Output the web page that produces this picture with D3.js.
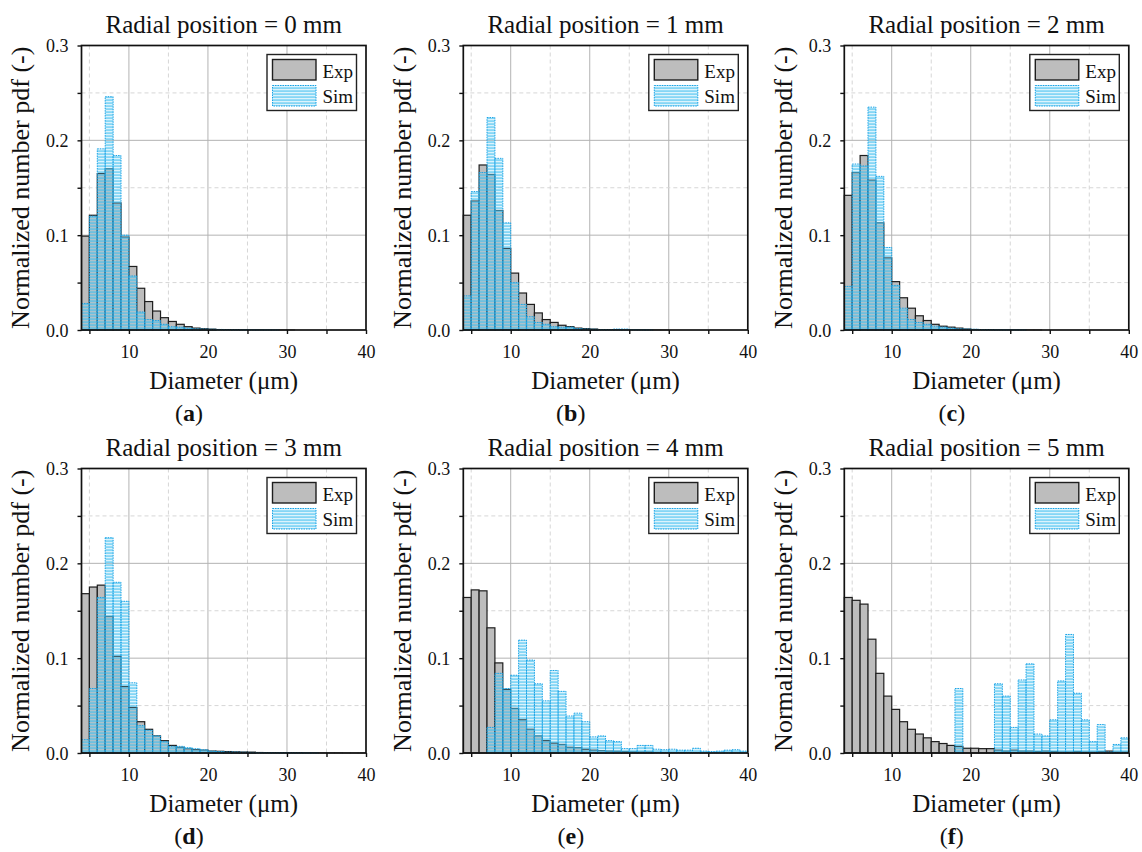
<!DOCTYPE html>
<html>
  <head>
    <meta charset="UTF-8">
    <title>Droplet size pdf</title>
    <script src="https://cdn.jsdelivr.net/npm/d3@7"></script>
    <style type="text/css">
      body { margin: 0; background: #fff; }
      svg text { font-family: "Liberation Serif", "DejaVu Serif", serif; fill: #111; }
    </style>
  </head>
  <body>

  <script type="text/javascript">

    // bins are 1 um wide, left edges 4 .. 39
    var binLeft = d3.range(4, 40, 1);

    var titles = ['Radial position = 0 mm', 'Radial position = 1 mm', 'Radial position = 2 mm',
                  'Radial position = 3 mm', 'Radial position = 4 mm', 'Radial position = 5 mm'];
    var letters = ['a', 'b', 'c', 'd', 'e', 'f'];
    var xTickLabels = [10, 20, 30, 40];
    var yTickLabels = [0, 0.1, 0.2, 0.3];
    var legendNames = ['Exp', 'Sim'];

    var expA = [0.099, 0.121, 0.165, 0.170, 0.134, 0.098, 0.067, 0.044, 0.030, 0.020, 0.013, 0.009,
                0.006, 0.0035, 0.002, 0.0013, 0.0009, 0.0007, 0.0005, 0.0004, 0.0003, 0.0002, 0.0002, 0.0001,
                0.0001, 0.0001, 0.0001, 0, 0, 0, 0, 0, 0, 0, 0, 0];
    var simA = [0.028, 0.120, 0.191, 0.246, 0.184, 0.100, 0.057, 0.019, 0.011, 0.010, 0.006, 0.0035,
                0.003, 0.002, 0.0012, 0.001, 0.0008, 0.0006, 0.0004, 0.0003, 0.0002, 0.0002, 0.0001, 0.0001,
                0.0001, 0, 0, 0, 0, 0, 0, 0, 0, 0, 0, 0];

    var expB = [0.121, 0.136, 0.174, 0.164, 0.126, 0.086, 0.060, 0.039, 0.027, 0.018, 0.011, 0.008,
                0.005, 0.0035, 0.002, 0.0014, 0.001, 0.0007, 0.0005, 0.0004, 0.0003, 0.0002, 0.0002, 0.0001,
                0.0001, 0.0001, 0, 0, 0, 0, 0, 0, 0, 0, 0, 0];
    var simB = [0.036, 0.146, 0.166, 0.224, 0.181, 0.113, 0.050, 0.027, 0.014, 0.008, 0.006, 0.0035,
                0.003, 0.003, 0.0014, 0.001, 0.0008, 0.0005, 0.0004, 0.0010, 0.0010, 0.0005, 0.0002, 0.0001,
                0, 0, 0, 0, 0, 0, 0, 0, 0, 0, 0, 0];

    var expC = [0.142, 0.166, 0.184, 0.158, 0.113, 0.076, 0.051, 0.034, 0.023, 0.015, 0.010, 0.006,
                0.004, 0.003, 0.002, 0.001, 0.0008, 0.0006, 0.0004, 0.0003, 0.0002, 0.0002, 0.0001, 0.0001,
                0.0001, 0, 0, 0, 0, 0, 0, 0, 0, 0, 0, 0];
    var simC = [0.046, 0.175, 0.173, 0.235, 0.162, 0.087, 0.047, 0.023, 0.011, 0.008, 0.006, 0.004,
                0.003, 0.002, 0.0012, 0.001, 0.0008, 0.0005, 0.0004, 0.0003, 0.0002, 0.0001, 0.0001, 0,
                0, 0, 0, 0, 0, 0, 0, 0, 0, 0, 0, 0];

    var expD = [0.168, 0.175, 0.177, 0.144, 0.102, 0.070, 0.048, 0.033, 0.025, 0.018, 0.013, 0.008,
                0.006, 0.0045, 0.0035, 0.003, 0.002, 0.0018, 0.0015, 0.0012, 0.001, 0.0009, 0.0008, 0.0007,
                0.0006, 0.0005, 0.0005, 0.0004, 0.0003, 0.0003, 0.0002, 0.0002, 0.0002, 0.0001, 0.0001, 0.0001];
    var simD = [0.014, 0.068, 0.164, 0.227, 0.180, 0.160, 0.074, 0.029, 0.024, 0.018, 0.012, 0.007,
                0.007, 0.0056, 0.0045, 0.0035, 0.002, 0.0015, 0.001, 0.001, 0.0008, 0.0006, 0.0005, 0.0004,
                0.0003, 0.0003, 0.0002, 0.0002, 0.0001, 0.0001, 0, 0, 0, 0, 0, 0];

    var expE = [0.164, 0.172, 0.171, 0.132, 0.095, 0.067, 0.047, 0.035, 0.025, 0.018, 0.013, 0.0105,
                0.009, 0.006, 0.0056, 0.004, 0.003, 0.0025, 0.002, 0.0018, 0.0015, 0.0012, 0.001, 0.001,
                0.0008, 0.0007, 0.0006, 0.0005, 0.0005, 0.0004, 0.0003, 0.0003, 0.0002, 0.0002, 0.0002, 0.0001];
    var simE = [0, 0, 0, 0.027, 0.084, 0.068, 0.082, 0.119, 0.098, 0.073, 0.055, 0.087,
                0.065, 0.039, 0.042, 0.033, 0.017, 0.018, 0.013, 0.012, 0.0046, 0.0046, 0.008, 0.008,
                0.004, 0.0035, 0.004, 0.003, 0.003, 0.005, 0.002, 0.0015, 0.002, 0.003, 0.0035, 0.002];

    var expF = [0.164, 0.161, 0.157, 0.120, 0.084, 0.060, 0.046, 0.033, 0.025, 0.020, 0.016, 0.012,
                0.010, 0.008, 0.007, 0.005, 0.005, 0.0046, 0.0046, 0.003, 0.002, 0.003, 0.002, 0.002,
                0.0015, 0.002, 0.0015, 0.001, 0.001, 0.0015, 0.001, 0.001, 0.0015, 0.002, 0.001, 0.001];
    var simF = [0, 0, 0, 0, 0, 0, 0, 0, 0, 0, 0, 0,
                0, 0, 0.068, 0, 0, 0, 0, 0.073, 0.060, 0.027, 0.077, 0.094,
                0.020, 0.018, 0.035, 0.076, 0.125, 0.063, 0.035, 0.012, 0.030, 0.001, 0.009, 0.016];

    var expSeries = [expA, expB, expC, expD, expE, expF];
    var simSeries = [simA, simB, simC, simD, simE, simF];

    var width = 1142, height = 852,
      plotSize = 284.5,
      colX = [0, 381.8, 762.8],
      rowY = [0, 423];

    var svg = d3.select('body')
      .append('svg')
      .attr('width', width)
      .attr('height', height);

    // striped fill used by the Sim bars
    var defs = svg.append('defs');
    var pat = defs.append('pattern')
      .attr('id', 'stripes')
      .attr('patternUnits', 'userSpaceOnUse')
      .attr('width', 6)
      .attr('height', 3);
    pat.append('rect')
      .attr('width', 6).attr('height', 3)
      .attr('fill', '#9fdcf7').attr('fill-opacity', 0.18);
    pat.append('rect')
      .attr('y', 0).attr('width', 6).attr('height', 1.2)
      .attr('fill', '#3fbff0');

    var x = d3.scaleLinear().domain([4, 40]).range([0, plotSize]);
    var y = d3.scaleLinear().domain([0, 0.3]).range([plotSize, 0]);

    var xMinor = d3.range(5, 41, 5);
    var yMinor = d3.range(0, 0.301, 0.05);

    function drawPanel(i) {
      var ox = colX[i % 3], oy = rowY[Math.floor(i / 3)];
      var left = ox + 81.5, top = oy + 45.5;

      var fig = svg.append('g').attr('transform', 'translate(' + ox + ',' + oy + ')');
      var g = svg.append('g')
        .attr('transform', 'translate(' + left + ',' + top + ')');

      // grid
      g.selectAll('.gx')
        .data(xMinor.filter(function(d) { return d < 40; }))
        .enter().append('line')
        .attr('x1', function(d) { return x(d); })
        .attr('x2', function(d) { return x(d); })
        .attr('y1', 0).attr('y2', plotSize)
        .attr('stroke', function(d) { return d % 10 === 0 ? '#b3b3b3' : '#d6d6d6'; })
        .attr('stroke-width', 1)
        .attr('stroke-dasharray', function(d) { return d % 10 === 0 ? null : '4,3'; });

      g.selectAll('.gy')
        .data(yMinor.filter(function(d) { return d > 0.001 && d < 0.299; }))
        .enter().append('line')
        .attr('x1', 0).attr('x2', plotSize)
        .attr('y1', function(d) { return y(d); })
        .attr('y2', function(d) { return y(d); })
        .attr('stroke', function(d) { return Math.abs(d * 10 - Math.round(d * 10)) < 1e-6 ? '#b3b3b3' : '#d6d6d6'; })
        .attr('stroke-width', 1)
        .attr('stroke-dasharray', function(d) { return Math.abs(d * 10 - Math.round(d * 10)) < 1e-6 ? null : '4,3'; });

      // Exp bars
      g.selectAll('.exp')
        .data(expSeries[i])
        .enter().append('rect')
        .attr('x', function(d, k) { return x(binLeft[k]); })
        .attr('y', function(d) { return y(d); })
        .attr('width', x(5) - x(4))
        .attr('height', function(d) { return plotSize - y(d); })
        .attr('fill', '#bdbdbd')
        .attr('stroke', '#1e1e1e')
        .attr('stroke-width', function(d) { return d > 0.0008 ? 1.2 : 0.6; });

      // Sim bars
      g.selectAll('.sim')
        .data(simSeries[i])
        .enter().append('rect')
        .attr('x', function(d, k) { return x(binLeft[k]); })
        .attr('y', function(d) { return y(d); })
        .attr('width', x(5) - x(4))
        .attr('height', function(d) { return plotSize - y(d); })
        .attr('fill', 'url(#stripes)')
        .attr('stroke', '#19a3e6')
        .attr('stroke-width', function(d) { return d > 0 ? 1 : 0; })
        .attr('stroke-dasharray', '1.5,1');

      // axes
      var xAxis = d3.axisBottom(x)
        .tickValues(xMinor)
        .tickSize(4)
        .tickFormat(function(d) { return xTickLabels.indexOf(d) >= 0 ? d : ''; });
      var yAxis = d3.axisLeft(y)
        .tickValues(yMinor)
        .tickSize(4)
        .tickFormat(function(d) {
          var hit = yTickLabels.filter(function(t) { return Math.abs(t - d) < 1e-6; });
          return hit.length ? d3.format('.1f')(d) : '';
        });

      var ax = g.append('g').attr('transform', 'translate(0,' + plotSize + ')').call(xAxis);
      ax.select('.domain').remove();
      ax.selectAll('line').attr('stroke', '#111').attr('stroke-width', 1.4);
      ax.selectAll('text').attr('font-size', 18).attr('dy', null).attr('y', 28)
        .attr('font-family', '"Liberation Serif", serif');

      var ay = g.append('g').call(yAxis);
      ay.select('.domain').remove();
      ay.selectAll('line').attr('stroke', '#111').attr('stroke-width', 1.4);
      ay.selectAll('text').attr('font-size', 18).attr('x', -13).attr('dy', '0.34em')
        .attr('font-family', '"Liberation Serif", serif');

      // frame
      g.append('rect')
        .attr('width', plotSize).attr('height', plotSize)
        .attr('fill', 'none')
        .attr('stroke', '#111')
        .attr('stroke-width', 1.7);

      // legend
      var lg = g.append('g').attr('transform', 'translate(185.5,9)');
      lg.append('rect')
        .attr('width', 89.5).attr('height', 56)
        .attr('fill', '#fff').attr('stroke', '#222').attr('stroke-width', 1.4);
      lg.append('rect')
        .attr('x', 5.5).attr('y', 5).attr('width', 43.5).attr('height', 20.5)
        .attr('fill', '#bdbdbd').attr('stroke', '#1e1e1e').attr('stroke-width', 1.4);
      lg.append('rect')
        .attr('x', 5.5).attr('y', 31).attr('width', 43.5).attr('height', 20.5)
        .attr('fill', 'url(#stripes)').attr('stroke', '#19a3e6')
        .attr('stroke-width', 1).attr('stroke-dasharray', '1.5,1');
      lg.selectAll('text')
        .data(legendNames)
        .enter().append('text')
        .attr('x', 55.5)
        .attr('y', function(d, k) { return 23.5 + k * 25; })
        .attr('font-size', 19)
        .text(function(d) { return d; });

      // titles and labels
      g.append('text')
        .attr('x', plotSize / 2).attr('y', -12.5)
        .attr('text-anchor', 'middle')
        .attr('font-size', 25)
        .text(titles[i]);

      g.append('text')
        .attr('x', plotSize / 2).attr('y', plotSize + 59)
        .attr('text-anchor', 'middle')
        .attr('font-size', 25)
        .text('Diameter (\u03bcm)');

      fig.append('text')
        .attr('transform', 'translate(29,' + (45.5 + plotSize / 2) + ') rotate(-90)')
        .attr('text-anchor', 'middle')
        .attr('font-size', 26)
        .text('Normalized number pdf (-)');

      var lab = fig.append('text')
        .attr('x', 189).attr('y', 45.5 + plotSize + 91)
        .attr('text-anchor', 'middle')
        .attr('font-size', 24);
      lab.append('tspan').text('(');
      lab.append('tspan').attr('font-weight', 'bold').text(letters[i]);
      lab.append('tspan').text(')');
    }

    for (var i = 0; i < 6; i++) {
      drawPanel(i);
    }

  </script>

  </body>
</html>
